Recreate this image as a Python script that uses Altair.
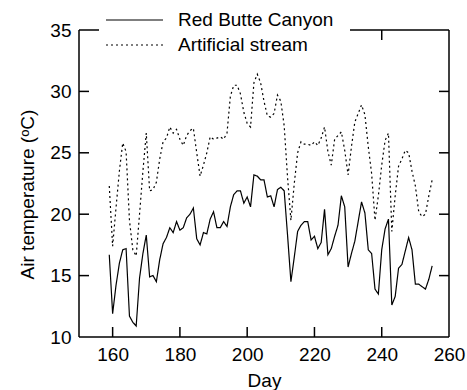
import altair as alt
import pandas as pd

# ---------------- data ----------------
days = list(range(159, 256))
red_butte = [
    16.7, 11.9, 14.2, 16.0, 17.1, 17.2, 11.7, 11.2, 10.9, 14.8,
    16.8, 18.3, 14.9, 15.0, 14.5, 16.3, 17.6, 18.1, 18.9, 18.5,
    19.4, 18.7, 18.9, 19.7, 20.0, 20.5, 18.0, 17.5, 18.5, 18.4,
    19.6, 20.2, 18.9, 18.9, 19.4, 19.0, 20.6, 21.6, 21.9, 21.9,
    20.9, 21.4, 20.6, 23.2, 23.1, 22.8, 22.8, 21.4, 21.5, 20.6,
    22.0, 22.2, 21.9, 18.3, 14.5, 16.5, 18.6, 19.1, 19.4, 19.4,
    17.9, 18.2, 17.2, 17.7, 20.4, 16.7, 17.2, 18.2, 19.1, 21.5,
    20.6, 15.7, 16.8, 17.8, 19.4, 21.0, 20.1, 17.1, 16.8, 13.9,
    13.5, 17.1, 18.8, 19.6, 12.6, 13.3, 15.6, 15.9, 17.0, 18.1,
    17.1, 14.3, 14.3, 14.1, 13.9, 14.7, 15.8,
]
artificial = [
    22.3, 17.4, 20.5, 23.5, 25.8, 25.1, 19.5, 17.1, 16.6, 20.0,
    23.5, 26.6, 21.9, 22.0, 22.6, 24.5, 25.9, 26.2, 27.1, 26.6,
    26.9, 26.1, 25.6, 26.4, 26.8, 27.0, 25.0, 23.1, 24.0, 25.0,
    26.3, 26.1, 26.2, 26.3, 26.1, 26.6, 29.6, 30.5, 30.5, 29.8,
    28.3, 27.4, 27.1, 30.7, 31.4, 30.7, 29.2, 28.0, 27.9, 28.2,
    29.7, 29.2, 27.2, 23.0, 19.5, 22.5, 25.0, 25.9, 25.7, 25.7,
    25.6, 25.9, 25.6, 26.2, 27.1, 25.1, 24.0, 26.1, 26.4, 26.7,
    25.2, 23.2, 25.5, 27.5, 28.2, 28.9, 28.1, 25.5, 23.3, 19.5,
    21.5, 24.0, 26.0, 26.6, 18.6, 21.5, 23.9, 24.5, 25.2, 25.0,
    23.5, 22.3, 20.2, 19.8, 20.0, 21.5, 22.8,
]
series_names = ["Red Butte Canyon", "Artificial stream"]
x_label_values = [160, 180, 200, 220, 240, 260]
y_label_values = [10, 15, 20, 25, 30, 35]
x_ticks = [160, 180, 200, 220, 240]
y_ticks = [15, 20, 25, 30]

# ---------------- layout ----------------
W, H = 370, 307
FONT = "Liberation Sans"
FS = 19
TICK = 10

df = pd.DataFrame({
    "Day": days * 2,
    "Temp": red_butte + artificial,
    "Series": [series_names[0]] * len(days) + [series_names[1]] * len(days),
})
xt = pd.DataFrame({"Day": x_ticks})
yt = pd.DataFrame({"Temp": y_ticks})
one = pd.DataFrame({"a": [0]})

xscale = alt.Scale(domain=[150, 260], nice=False, zero=False)
yscale = alt.Scale(domain=[10, 35], nice=False, zero=False)

xaxis = alt.Axis(values=x_label_values, title="Day", ticks=False, domain=False,
                 grid=False, labelFontSize=FS, labelFont=FONT, labelColor="black",
                 labelPadding=8, titleFontSize=FS, titleFont=FONT,
                 titleFontWeight="normal", titleColor="black", titlePadding=7,
                 labelFlush=False)
yaxis = alt.Axis(values=y_label_values, title="Air temperature (ᵒC)", ticks=False,
                 domain=False, grid=False, labelFontSize=FS, labelFont=FONT,
                 labelColor="black", labelPadding=8, titleFontSize=FS,
                 titleFont=FONT, titleFontWeight="normal", titleColor="black",
                 titlePadding=12, titleY=164, labelFlush=False)

lines = alt.Chart(df).mark_line(color="black", strokeWidth=1.2).encode(
    x=alt.X("Day:Q", scale=xscale, axis=xaxis),
    y=alt.Y("Temp:Q", scale=yscale, axis=yaxis),
    strokeDash=alt.StrokeDash("Series:N",
                              scale=alt.Scale(domain=series_names, range=[[1, 0], [2, 3]]),
                              legend=None),
    order=alt.Order("Day:Q"),
)

rule_style = dict(color="black", strokeWidth=1.5)

tick_bottom = alt.Chart(xt).mark_rule(**rule_style).encode(
    x=alt.X("Day:Q", scale=xscale, axis=xaxis), y=alt.value(H), y2=alt.value(H - TICK))
tick_top = alt.Chart(xt).mark_rule(**rule_style).encode(
    x=alt.X("Day:Q", scale=xscale, axis=xaxis), y=alt.value(0), y2=alt.value(TICK))
tick_left = alt.Chart(yt).mark_rule(**rule_style).encode(
    y=alt.Y("Temp:Q", scale=yscale, axis=yaxis), x=alt.value(0), x2=alt.value(TICK))
tick_right = alt.Chart(yt).mark_rule(**rule_style).encode(
    y=alt.Y("Temp:Q", scale=yscale, axis=yaxis), x=alt.value(W), x2=alt.value(W - TICK))

frame = [
    alt.Chart(one).mark_rule(**rule_style).encode(x=alt.value(0), x2=alt.value(W), y=alt.value(0)),
    alt.Chart(one).mark_rule(**rule_style).encode(x=alt.value(0), x2=alt.value(W), y=alt.value(H)),
    alt.Chart(one).mark_rule(**rule_style).encode(x=alt.value(0), y=alt.value(0), y2=alt.value(H)),
    alt.Chart(one).mark_rule(**rule_style).encode(x=alt.value(W), y=alt.value(0), y2=alt.value(H)),
]

legend_bg = alt.Chart(one).mark_rect(fill="white").encode(
    x=alt.value(20), x2=alt.value(271), y=alt.value(-30), y2=alt.value(27))
leg_line1 = alt.Chart(one).mark_rule(color="black", strokeWidth=1.2).encode(
    x=alt.value(27), x2=alt.value(84), y=alt.value(-10))
leg_line2 = alt.Chart(one).mark_rule(color="black", strokeWidth=1.2, strokeDash=[2, 3]).encode(
    x=alt.value(27), x2=alt.value(84), y=alt.value(15))
leg_text1 = alt.Chart(one).mark_text(align="left", baseline="middle", fontSize=FS, font=FONT,
                                     color="black").encode(
    x=alt.value(99), y=alt.value(-10), text=alt.value(series_names[0]))
leg_text2 = alt.Chart(one).mark_text(align="left", baseline="middle", fontSize=FS, font=FONT,
                                     color="black").encode(
    x=alt.value(99), y=alt.value(15), text=alt.value(series_names[1]))

chart = alt.layer(
    lines, tick_bottom, tick_top, tick_left, tick_right, *frame,
    legend_bg, leg_line1, leg_line2, leg_text1, leg_text2,
).properties(
    width=W, height=H,
    autosize=alt.AutoSizeParams(type="none"),
    padding={"left": 79, "top": 30, "right": 18, "bottom": 53},
    background="white",
).configure_view(stroke=None)

chart.save("out.html", embed_options={"renderer": "svg", "actions": False})
